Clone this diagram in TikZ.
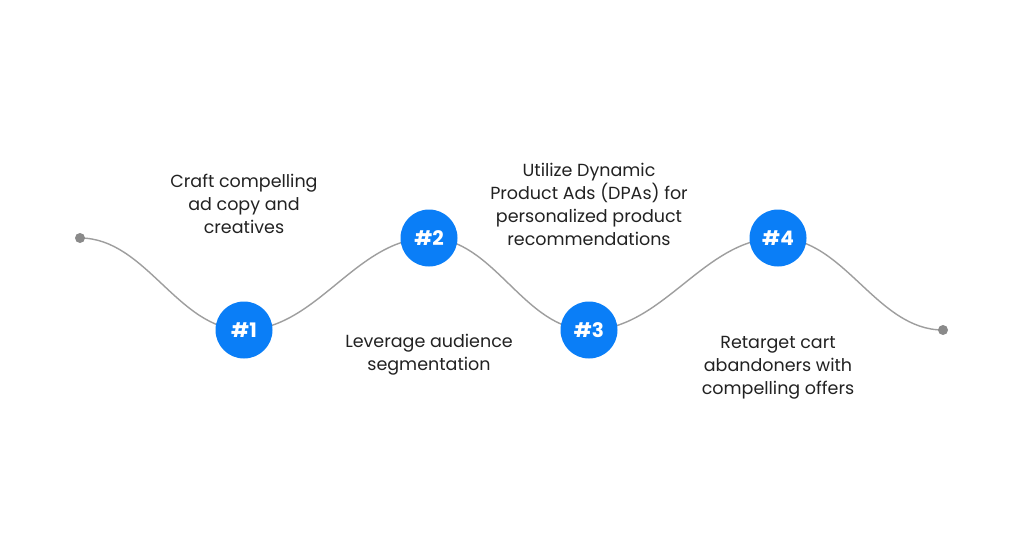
\documentclass[tikz,border=0pt]{standalone}
\usepackage{fontspec}
\setmainfont{Poppins}
\usetikzlibrary{backgrounds}
\definecolor{stepblue}{HTML}{0A7EF7}
\definecolor{wavegray}{HTML}{9E9E9E}
\definecolor{dotgray}{HTML}{8A8A8A}
\definecolor{txt}{HTML}{222222}
\tikzset{
  stepcircle/.style={circle, fill=stepblue, minimum size=57pt, inner sep=0pt,
    text=white, font=\fontsize{20}{20}\selectfont\bfseries},
  enddot/.style={circle, fill=dotgray, minimum size=10pt, inner sep=0pt},
  desc/.style={align=center, text=txt, font=\fontsize{17.5}{23}\selectfont},
  wave/.style={draw=wavegray, line width=1.4pt, out=0, in=180, looseness=0.9}
}
\begin{document}
\begin{tikzpicture}[x=1pt,y=-1pt]
\useasboundingbox (0,0) rectangle (1024,538);
\node[enddot] (s) at (80,238) {};
\node[enddot] (e) at (943,330) {};
\node[stepcircle] (c1) at (244,330) {\#1};
\node[stepcircle] (c2) at (429,238) {\#2};
\node[stepcircle] (c3) at (589,330) {\#3};
\node[stepcircle] (c4) at (778,238) {\#4};
\begin{pgfonlayer}{background}
\fill[white] (0,0) rectangle (1024,538);
\draw[wave] (s.center) to (c1.center);
\draw[wave] (c1.center) to (c2.center);
\draw[wave] (c2.center) to (c3.center);
\draw[wave] (c3.center) to (c4.center);
\draw[wave] (c4.center) to (e.center);
\end{pgfonlayer}
\node[desc] (t1) at (244,204) {Craft compelling\\ad copy and\\creatives};
\node[desc] (t2) at (429,355) {Leverage audience\\segmentation};
\node[desc] (t3) at (589,204) {Utilize Dynamic\\Product Ads (DPAs) for\\personalized product\\recommendations};
\node[desc] (t4) at (778,368) {Retarget cart\\abandoners with\\compelling offers};
\end{tikzpicture}
\end{document}
